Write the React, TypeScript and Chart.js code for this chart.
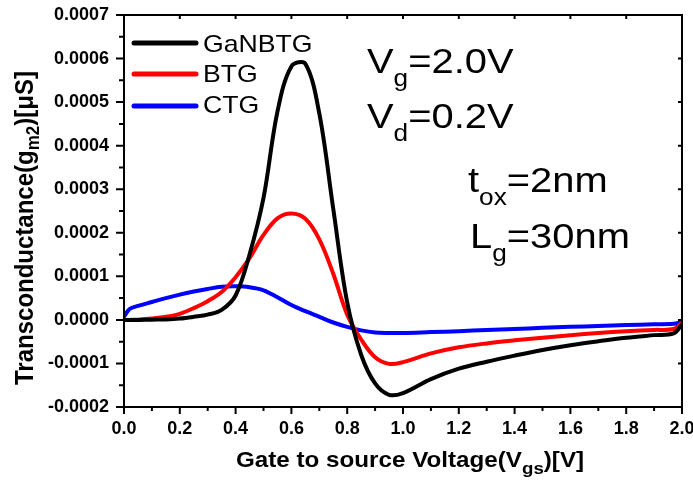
import React, { useEffect, useRef } from "react";
import { Chart, registerables } from "chart.js";

Chart.register(...registerables);

// Gate to source voltage (V)
const vgs = [0, 0.02, 0.05, 0.1, 0.15, 0.2, 0.25, 0.3, 0.35, 0.4, 0.45, 0.5, 0.55, 0.6, 0.65, 0.7, 0.75, 0.8, 0.85, 0.9, 0.95, 1.0, 1.1, 1.2, 1.3, 1.4, 1.5, 1.6, 1.7, 1.8, 1.9, 1.97, 2.0];

// Transconductance gm2 (µS)
const gaNBTG = [0, 0, 0, 0.0000005, 0.000001, 0.000003, 0.000007, 0.000012, 0.000023, 0.000056, 0.00015, 0.00028, 0.000478, 0.000582, 0.000588, 0.000474, 0.000255, 0.00004, -0.00008, -0.000146, -0.000172, -0.000168, -0.000136, -0.000112, -0.000096, -0.000082, -0.000069, -0.000058, -0.000049, -0.000041, -0.000035, -0.000031, -0.00001];
const btg = [0, 0, 0.0000005, 0.000003, 0.000007, 0.000014, 0.000027, 0.000043, 0.000064, 0.000098, 0.000142, 0.000195, 0.000233, 0.000244, 0.000232, 0.000185, 0.000106, 0.000012, -0.000045, -0.000086, -0.000101, -0.000097, -0.000077, -0.000063, -0.000054, -0.000047, -0.000041, -0.000035, -0.00003, -0.000026, -0.000023, -0.000021, -0.000007];
const ctg = [0.000007, 0.000025, 0.000032, 0.000041, 0.00005, 0.000058, 0.000065, 0.000071, 0.000076, 0.000077, 0.000075, 0.000068, 0.000052, 0.000034, 0.00002, 0.000007, -0.000006, -0.000016, -0.000024, -0.000029, -0.00003, -0.00003, -0.000028, -0.000026, -0.000023, -0.000021, -0.000018, -0.000016, -0.000014, -0.000012, -0.00001, -0.000009, -0.000005];

const seriesNames = ["GaNBTG", "BTG", "CTG"];
const seriesColors = ["#000000", "#ff0000", "#0000ff"];

const xTickValues = [0, 0.2, 0.4, 0.6, 0.8, 1.0, 1.2, 1.4, 1.6, 1.8, 2.0];
const xMinorValues = [0.1, 0.3, 0.5, 0.7, 0.9, 1.1, 1.3, 1.5, 1.7, 1.9];
const yTickValues = [-0.0002, -0.0001, 0, 0.0001, 0.0002, 0.0003, 0.0004, 0.0005, 0.0006, 0.0007];
const yMinorValues = [-0.00015, -0.00005, 0.00005, 0.00015, 0.00025, 0.00035, 0.00045, 0.00055, 0.00065];

const FAMILY = "'Liberation Sans', Arial, Helvetica, sans-serif";

type Part = { t: string; size: number; dy?: number; bold?: boolean };

function drawRich(ctx: CanvasRenderingContext2D, parts: Part[], x: number, y: number, sx: number, sy: number, rotate = false) {
  ctx.save();
  ctx.translate(x, y);
  if (rotate) ctx.rotate(-Math.PI / 2);
  ctx.scale(sx, sy);
  ctx.fillStyle = "#000";
  ctx.textBaseline = "alphabetic";
  ctx.textAlign = "left";
  let cx = 0;
  for (const p of parts) {
    ctx.font = `${p.bold ? "bold " : ""}${p.size}px ${FAMILY}`;
    ctx.fillText(p.t, cx, p.dy || 0);
    cx += ctx.measureText(p.t).width;
  }
  ctx.restore();
}

const decorPlugin = {
  id: "decor",
  afterDatasetsDraw(chart: any) {
    const ctx: CanvasRenderingContext2D = chart.ctx;
    const { left, right, top, bottom } = chart.chartArea;
    const xs = chart.scales.x;
    const ys = chart.scales.y;
    ctx.save();
    ctx.strokeStyle = "#000";
    ctx.lineWidth = 2;
    ctx.strokeRect(left, top, right - left, bottom - top);
    ctx.beginPath();
    for (const v of xTickValues) {
      const px = xs.getPixelForValue(v);
      ctx.moveTo(px, bottom);
      ctx.lineTo(px, bottom + 7);
      ctx.moveTo(px, top);
      ctx.lineTo(px, top + 4);
    }
    for (const v of xMinorValues) {
      const px = xs.getPixelForValue(v);
      ctx.moveTo(px, bottom);
      ctx.lineTo(px, bottom + 4);
    }
    for (const v of yTickValues) {
      const py = ys.getPixelForValue(v);
      ctx.moveTo(left - 8, py);
      ctx.lineTo(left, py);
      ctx.moveTo(right, py);
      ctx.lineTo(right - 4, py);
    }
    for (const v of yMinorValues) {
      const py = ys.getPixelForValue(v);
      ctx.moveTo(left - 5, py);
      ctx.lineTo(left, py);
    }
    ctx.stroke();

    // legend
    const legendY = [43, 74, 106];
    const legendBase = [52, 82, 113];
    chart.data.datasets.forEach((ds: any, i: number) => {
      ctx.strokeStyle = ds.borderColor;
      ctx.lineWidth = 5;
      ctx.lineCap = "round";
      ctx.beginPath();
      ctx.moveTo(134, legendY[i]);
      ctx.lineTo(196, legendY[i]);
      ctx.stroke();
      drawRich(ctx, [{ t: ds.label, size: 24 }], 203, legendBase[i], 1.11, 1);
    });
    ctx.restore();

    // annotations
    const ASX = 1.14;
    drawRich(ctx, [{ t: "V", size: 35 }, { t: "g", size: 23, dy: 13 }, { t: "=2.0V", size: 35 }], 367, 73, ASX, 1);
    drawRich(ctx, [{ t: "V", size: 35 }, { t: "d", size: 23, dy: 13 }, { t: "=0.2V", size: 35 }], 367, 128, ASX, 1);
    drawRich(ctx, [{ t: "t", size: 35 }, { t: "ox", size: 23, dy: 13 }, { t: "=2nm", size: 35 }], 468, 192, ASX, 1);
    drawRich(ctx, [{ t: "L", size: 35 }, { t: "g", size: 23, dy: 13 }, { t: "=30nm", size: 35 }], 470, 248, ASX, 1);

    // axis titles
    drawRich(ctx, [
      { t: "Gate to source Voltage(V", size: 22, bold: true },
      { t: "gs", size: 17, bold: true, dy: 7 },
      { t: ")[V]", size: 22, bold: true },
    ], 236, 467, 1.1, 1);
    drawRich(ctx, [
      { t: "Transconductance(g", size: 24, bold: true },
      { t: "m2", size: 17, bold: true, dy: 6 },
      { t: ")[\u03BCS]", size: 24, bold: true },
    ], 33, 385, 1, 1.05, true);
  },
};

export default function App() {
  const ref = useRef<HTMLCanvasElement | null>(null);
  useEffect(() => {
    if (!ref.current) return;
    const seriesValues = [gaNBTG, btg, ctg];
    const tickFont = { family: FAMILY, size: 18, weight: "bold" as const };
    const chart = new Chart(ref.current, {
      type: "line",
      data: {
        datasets: seriesValues.map((vals, i) => ({
          label: seriesNames[i],
          data: vgs.map((x, j) => ({ x, y: vals[j] })),
          borderColor: seriesColors[i],
          backgroundColor: seriesColors[i],
          borderWidth: 4,
          pointRadius: 0,
          tension: 0.35,
          fill: false,
        })),
      },
      options: {
        responsive: false,
        animation: false,
        events: [],
        layout: { padding: { top: 15, right: 11, left: 0, bottom: 0 } },
        plugins: { legend: { display: false }, tooltip: { enabled: false }, title: { display: false } },
        scales: {
          x: {
            type: "linear",
            min: 0,
            max: 2,
            afterBuildTicks: (s: any) => { s.ticks = xTickValues.map((v) => ({ value: v })); },
            afterFit: (s: any) => { s.height = 74; s.paddingRight = 0; s.paddingLeft = 0; },
            grid: { drawOnChartArea: false, drawTicks: true, tickLength: 8, color: "rgba(0,0,0,0)" },
            border: { display: false },
            ticks: { padding: 3, color: "#000", font: tickFont, maxRotation: 0, autoSkip: false, callback: (v: any) => Number(v).toFixed(1) },
          },
          y: {
            type: "linear",
            min: -0.0002,
            max: 0.0007,
            afterBuildTicks: (s: any) => { s.ticks = yTickValues.map((v) => ({ value: v })); },
            afterFit: (s: any) => { s.width = 124; s.paddingTop = 0; s.paddingBottom = 0; },
            grid: { drawOnChartArea: false, drawTicks: true, tickLength: 8, color: "rgba(0,0,0,0)" },
            border: { display: false },
            ticks: { padding: 7, color: "#000", font: tickFont, autoSkip: false, callback: (v: any) => Number(v).toFixed(4) },
          },
        },
      },
      plugins: [decorPlugin],
    });
    return () => chart.destroy();
  }, []);
  return (
    <canvas
      ref={ref}
      width={693}
      height={481}
      style={{ position: "absolute", left: 0, top: 0, width: 693, height: 481, background: "#fff" }}
    />
  );
}
